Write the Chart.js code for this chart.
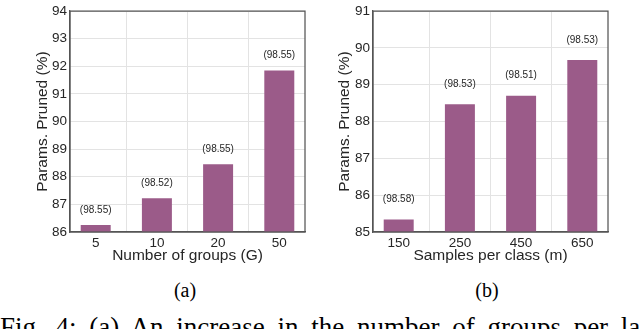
<!DOCTYPE html>
<html>
<head>
<meta charset="utf-8">
<script src="https://cdn.jsdelivr.net/npm/chart.js@4/dist/chart.umd.min.js"></script>
<style>
  html, body { margin: 0; padding: 0; background: #fff; width: 640px; height: 329px; overflow: hidden; position: relative; }
  canvas { position: absolute; top: 0; }
  .sub { position: absolute; width: 100px; text-align: center; font-family: "Liberation Serif", "Times New Roman", serif; font-size: 20px; line-height: 20px; color: #000; top: 280px; }
  .cap { position: absolute; left: 0; top: 314px; white-space: nowrap; font-family: "Liberation Serif", "Times New Roman", serif; font-size: 27px; line-height: 27px; word-spacing: 6px; color: #000; }
</style>
</head>
<body>
<canvas id="c1" width="320" height="270" style="left:0"></canvas>
<canvas id="c2" width="320" height="270" style="left:320px"></canvas>
<div class="sub" style="left:135px">(a)</div>
<div class="sub" style="left:437px">(b)</div>
<div class="cap">Fig. 4: (a) An increase in the number of groups per layer</div>
<script>
// ---- data ----
const groupsCategories = ['5', '10', '20', '50'];
const groupsPruned = [86.25, 87.22, 88.45, 91.85];
const groupsAccLabels = ['(98.55)', '(98.52)', '(98.55)', '(98.55)'];
const groupsYTicks = [86, 94];

const samplesCategories = ['150', '250', '450', '650'];
const samplesPruned = [85.34, 88.47, 88.70, 89.67];
const samplesAccLabels = ['(98.58)', '(98.53)', '(98.51)', '(98.53)'];
const samplesYTicks = [85, 91];

const BAR_COLOR = '#9b5b89';
const TEXT_COLOR = '#262626';
const GRID_COLOR = '#e3e3e3';
const BORDER_COLOR = '#555555';

const boxPlugin = {
  id: 'box',
  afterDatasetsDraw(chart) {
    const a = chart.chartArea, ctx = chart.ctx;
    ctx.save();
    ctx.strokeStyle = BORDER_COLOR;
    ctx.lineWidth = 1.25;
    ctx.strokeRect(a.left, a.top, a.right - a.left, a.bottom - a.top);
    ctx.restore();
  }
};

const labelPlugin = {
  id: 'valLabels',
  afterDatasetsDraw(chart, args, opts) {
    const ctx = chart.ctx;
    const meta = chart.getDatasetMeta(0);
    const ys = chart.scales.y;
    ctx.save();
    ctx.font = '10px "Liberation Sans", Arial, sans-serif';
    ctx.fillStyle = TEXT_COLOR;
    ctx.textAlign = 'center';
    ctx.textBaseline = 'middle';
    meta.data.forEach((bar, i) => {
      const v = chart.data.datasets[0].data[i].y;
      ctx.fillText(opts.labels[i], bar.x, ys.getPixelForValue(v + 0.55));
    });
    ctx.restore();
  }
};

function makeChart(id, cats, vals, accLabels, yr, xTitle, yAxisWidth, yTitlePad, padRight) {
  const data = vals.map((v, i) => ({ x: i, y: v }));
  return new Chart(document.getElementById(id), {
    type: 'bar',
    data: { datasets: [{ data, backgroundColor: BAR_COLOR, borderWidth: 0, barPercentage: 0.49, categoryPercentage: 1.0 }] },
    plugins: [boxPlugin, labelPlugin],
    options: {
      responsive: false,
      animation: false,
      layout: { autoPadding: false, padding: { top: 5, right: padRight, left: 0, bottom: 0 } },
      plugins: { legend: { display: false }, tooltip: { enabled: false }, valLabels: { labels: accLabels } },
      scales: {
        x: {
          type: 'linear', min: -0.42, max: 3.42, offset: false,
          afterFit(s) { s.height = 38; },
          grid: { color: GRID_COLOR, drawTicks: false, lineWidth: 1 },
          border: { display: true, color: BORDER_COLOR, width: 1.25 },
          ticks: {
            stepSize: 1, includeBounds: false, autoSkip: false, maxRotation: 0, padding: 3,
            color: TEXT_COLOR, font: { family: '"Liberation Sans", Arial, sans-serif', size: 13.5 },
            callback: (v) => (Number.isInteger(v) && cats[v] !== undefined) ? cats[v] : ''
          },
          title: { display: true, text: xTitle, color: TEXT_COLOR, padding: { top: 0, bottom: 4.7 },
            font: { family: '"Liberation Sans", Arial, sans-serif', size: 15.5 } }
        },
        y: {
          min: yr[0], max: yr[1],
          afterFit(s) { s.width = yAxisWidth; },
          grid: { color: GRID_COLOR, drawTicks: false, lineWidth: 1 },
          border: { display: true, color: BORDER_COLOR, width: 1.25 },
          ticks: { stepSize: 1, padding: 3, color: TEXT_COLOR, font: { family: '"Liberation Sans", Arial, sans-serif', size: 13.5 } },
          title: { display: true, text: 'Params. Pruned (%)', color: TEXT_COLOR, padding: { top: yTitlePad, bottom: 0 },
            font: { family: '"Liberation Sans", Arial, sans-serif', size: 15.5 } }
        }
      }
    }
  });
}

makeChart('c1', groupsCategories, groupsPruned, groupsAccLabels, groupsYTicks, 'Number of groups (G)', 70, 33, 15);
makeChart('c2', samplesCategories, samplesPruned, samplesAccLabels, samplesYTicks, 'Samples per class (m)', 53, 15.7, 32);
</script>
</body>
</html>
